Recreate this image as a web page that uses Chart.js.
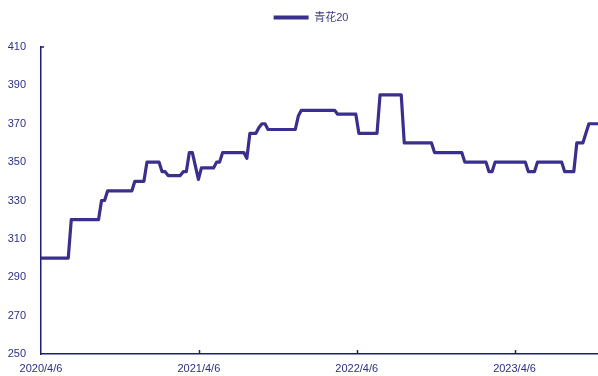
<!DOCTYPE html>
<html>
<head>
<meta charset="utf-8">
<script src="https://cdn.jsdelivr.net/npm/chart.js@4/dist/chart.umd.min.js"></script>
<style>
html,body{margin:0;padding:0;background:#fff;}
#wrap{width:598px;height:376px;position:relative;}
</style>
</head>
<body>
<div id="wrap"><canvas id="c" width="598" height="376"></canvas></div>
<script>
// ---- data ----
const seriesName = "青花20";
const dates = [
"2020-04-06","2020-06-08","2020-06-15","2020-08-17","2020-08-24","2020-08-31","2020-09-07",
"2020-11-02","2020-11-09","2020-11-30","2020-12-07","2021-01-04","2021-01-11","2021-01-18",
"2021-01-25","2021-02-22","2021-03-01","2021-03-08","2021-03-15","2021-03-22","2021-04-05",
"2021-04-12","2021-05-10","2021-05-17","2021-05-24","2021-05-31","2021-07-19","2021-07-26",
"2021-08-02","2021-08-16","2021-08-23","2021-08-30","2021-09-06","2021-09-13","2021-11-15",
"2021-11-22","2021-11-29","2022-02-14","2022-02-21","2022-04-04","2022-04-11","2022-05-23",
"2022-05-30","2022-07-18","2022-07-25","2022-09-26","2022-10-03","2022-12-05","2022-12-12",
"2023-01-30","2023-02-06","2023-02-13","2023-02-20","2023-05-01","2023-05-08","2023-05-22",
"2023-05-29","2023-07-24","2023-07-31","2023-08-21","2023-08-28","2023-09-11","2023-09-18",
"2023-09-25","2023-10-16"
];
const values = [
300,300,320,320,330,330,335,
335,340,340,350,350,345,345,
343,343,345,345,355,355,341,
347,347,350,350,355,355,352,
365,365,368,370,370,367,367,
374,377,377,375,375,365,365,
385,385,360,360,355,355,350,
350,345,345,350,350,345,345,
350,350,345,345,360,360,365,
370,370
];
const xTickDates = ["2020-04-06","2021-04-06","2022-04-06","2023-04-06"];
const xTickLabels = ["2020/4/6","2021/4/6","2022/4/6","2023/4/6"];
const yTicks = [250,270,290,310,330,350,370,390,410];

// ---- helpers ----
const DAY = 86400000;
const base = Date.parse(dates[0] + "T00:00:00Z");
const dayOf = s => Math.round((Date.parse(s + "T00:00:00Z") - base) / DAY);
const points = dates.map((d, i) => ({x: dayOf(d), y: values[i]}));
const tickDays = xTickDates.map(dayOf);

const LINE = "#3a2f8c";
const AXIS = "#1d1d7a";
const TXT = "#2e2e86";
const FONT = "'Liberation Sans', Arial, 'Noto Sans CJK SC', sans-serif";

const innerTicks = {
  id: "innerTicks",
  afterDraw(chart) {
    const ctx = chart.ctx, xs = chart.scales.x, ys = chart.scales.y;
    ctx.save();
    ctx.strokeStyle = AXIS;
    ctx.lineWidth = 1.5;
    ctx.beginPath();
    tickDays.slice(1).forEach(d => {
      const px = Math.round(xs.getPixelForValue(d)) + 0.5;
      ctx.moveTo(px, ys.bottom);
      ctx.lineTo(px, ys.bottom - 4);
    });
    const ty = ys.getPixelForValue(410);
    ctx.moveTo(xs.left, ty);
    ctx.lineTo(xs.left + 3, ty);
    ctx.stroke();
    ctx.restore();
  }
};

const legendSpace = {
  id: "legendSpace",
  afterInit(chart) {
    const lg = chart.legend;
    if (!lg) return;
    const orig = lg.fit;
    lg.fit = function () { orig.call(this); this.height += 14; };
  },
  afterLayout(chart) {
    const lg = chart.legend;
    if (!lg) return;
    lg.left += 12;
    lg.right += 12;
  }
};

new Chart(document.getElementById("c"), {
  type: "line",
  data: {
    datasets: [{
      label: seriesName,
      data: points,
      borderColor: LINE,
      backgroundColor: LINE,
      borderWidth: 3.2,
      pointRadius: 0,
      tension: 0,
      fill: false,
      borderJoinStyle: "round"
    }]
  },
  options: {
    responsive: false,
    animation: false,
    devicePixelRatio: 1,
    layout: {padding: {top: 0, right: 0, left: 0, bottom: 0}},
    plugins: {
      tooltip: {enabled: false},
      legend: {
        display: true,
        position: "top",
        labels: {
          color: "#3c3c8a",
          font: {family: FONT, size: 11},
          boxWidth: 35,
          boxHeight: 4,
          padding: 12,
          generateLabels: chart => Chart.defaults.plugins.legend.labels.generateLabels(chart)
            .map(l => Object.assign(l, {lineWidth: 0}))
        }
      }
    },
    scales: {
      x: {
        type: "linear",
        min: 0,
        max: points[points.length - 1].x,
        afterBuildTicks: s => { s.ticks = tickDays.map(v => ({value: v})); },
        afterFit: s => { s.height = 22; },
        grid: {display: false, drawTicks: false},
        border: {display: true, color: AXIS, width: 1.5},
        ticks: {
          autoSkip: false,
          maxRotation: 0,
          padding: 8,
          color: TXT,
          font: {family: FONT, size: 11},
          callback: v => { const i = tickDays.indexOf(v); return i >= 0 ? xTickLabels[i] : ""; }
        }
      },
      y: {
        min: 250,
        max: 410,
        afterBuildTicks: s => { s.ticks = yTicks.map(v => ({value: v})); },
        afterFit: s => { s.width = 41; },
        grid: {display: false, drawTicks: false},
        border: {display: true, color: AXIS, width: 1.5},
        ticks: {
          padding: 15,
          color: TXT,
          font: {family: FONT, size: 11}
        }
      }
    }
  },
  plugins: [innerTicks, legendSpace]
});
</script>
</body>
</html>
